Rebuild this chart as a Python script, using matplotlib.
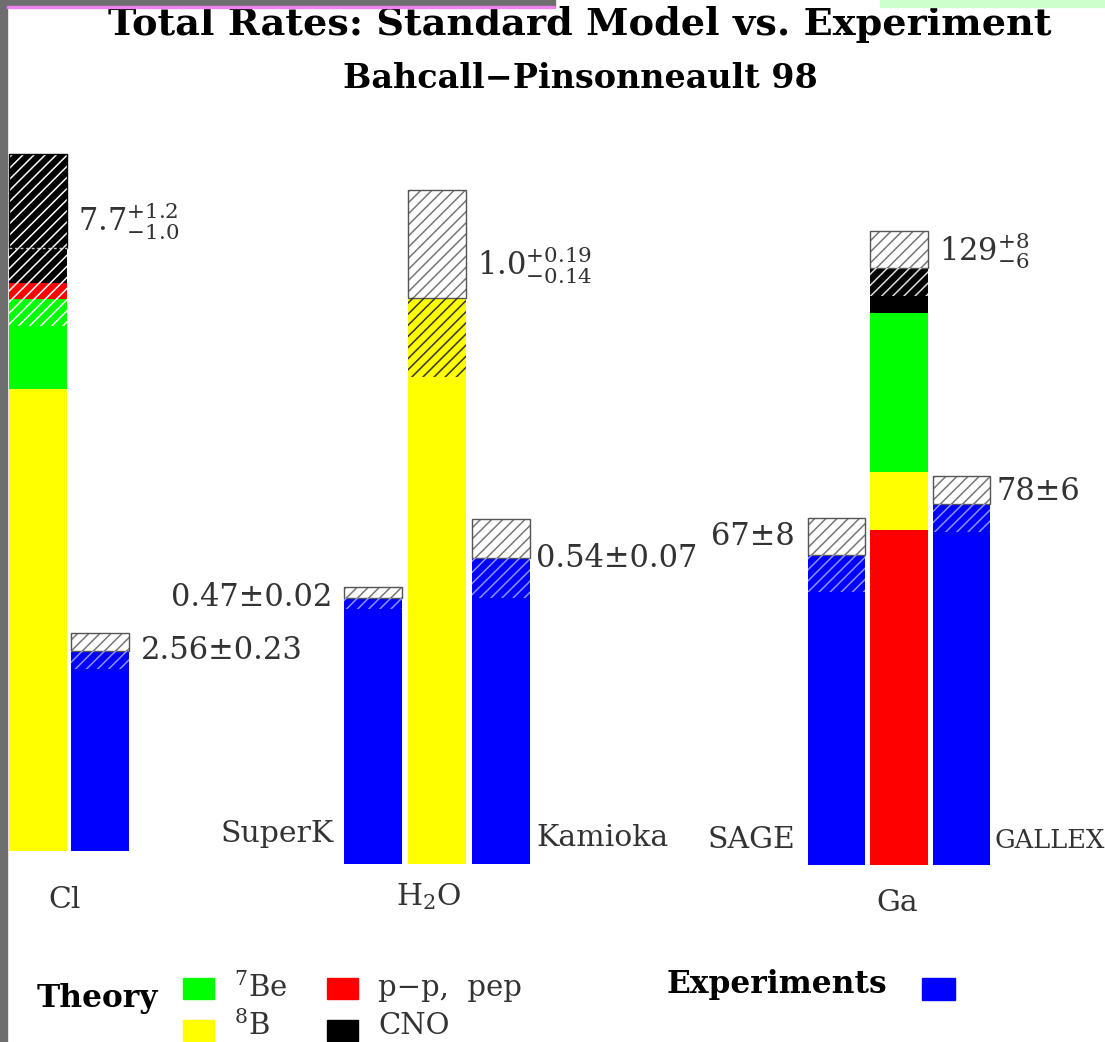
import matplotlib
matplotlib.use('Agg')
from matplotlib import pyplot as plt
from matplotlib.patches import Rectangle

W, H = 1105, 1042

SOURCE_COLORS = {
    'pp': '#ff0000',
    'pep': '#ff0000',
    '7Be': '#00ff00',
    '8B': '#ffff00',
    'CNO': '#000000',
}
EXP_COLOR = '#0000ff'

# Chlorine, SNU
CL_SOURCES = ['8B', '7Be', 'pep', 'CNO']
CL_FLUX = [5.9, 1.15, 0.2, 0.45]
CL_SSM = [7.7, 1.2, 1.0]          # value, +err, -err
CL_EXP = [2.56, 0.23]

# Water Cherenkov, ratio to BP98
H2O_SOURCES = ['8B']
H2O_FLUX = [1.0]
H2O_SSM = [1.0, 0.19, 0.14]
SUPERK = [0.47, 0.02]
KAMIOKA = [0.54, 0.07]

# Gallium, SNU
GA_SOURCES = ['pp', '8B', '7Be', 'CNO']
GA_FLUX = [72.4, 12.4, 34.4, 9.8]
GA_SSM = [129, 8, 6]
SAGE = [67, 8]
GALLEX = [78, 6]

TITLE = 'Total Rates: Standard Model vs. Experiment'
SUBTITLE = 'Bahcall\u2212Pinsonneault 98'
GROUP_NAMES = ['Cl', 'H$_2$O', 'Ga']
LEGEND_LABELS = {'7Be': '$^7$Be', '8B': '$^8$B', 'pp': 'p\u2212p,  pep', 'CNO': 'CNO'}

BAR_W = 0.92
HATCH = '///'
SERIF = 'DejaVu Serif'
INK = '#333333'
VALUE_SIZE = 22
NAME_SIZE = 21.5

plt.rcParams['mathtext.fontset'] = 'dejavuserif'
plt.rcParams['hatch.linewidth'] = 1.1


def fx(px):
    return px / W


def fy(py):
    return 1 - py / H


def group_axes(fig, center, pitch, base, scale, top=100):
    # three bar slots per group, y scaled so that `scale` pixels = 1 unit
    ax = fig.add_axes([(center - 1.5 * pitch) / W, 1 - base / H,
                       3 * pitch / W, (base - top) / H])
    ax.set_xlim(-0.5, 2.5)
    ax.set_ylim(0, (base - top) / scale)
    ax.axis('off')
    return ax


def fmt(v):
    return str(v)


def side_label(ax, text, x, y, side, dx=8, dy=0, size=VALUE_SIZE):
    edge = x + BAR_W / 2 if side == 'right' else x - BAR_W / 2
    sign = 1 if side == 'right' else -1
    ax.annotate(text, xy=(edge, y), xytext=(sign * dx * 0.72, dy * 0.72),
                textcoords='offset points', ha='left' if side == 'right' else 'right',
                va='center', fontsize=size, family=SERIF, color=INK,
                annotation_clip=False)


def draw_theory(ax, x, sources, flux, ssm, top_face='white', top_hatch='#777777',
                top_edge='#555555', low_hatch='white', mid_line=False, label_frac=0.3):
    bottom = 0
    for src, val in zip(sources, flux):
        ax.bar(x, val, BAR_W, bottom=bottom, color=SOURCE_COLORS[src], linewidth=0)
        bottom += val
    value, plus, minus = ssm
    ax.bar(x, plus, BAR_W, bottom=value, facecolor=top_face, edgecolor=top_hatch,
           hatch=HATCH, linewidth=0)
    ax.bar(x, plus, BAR_W, bottom=value, fill=False, edgecolor=top_edge, linewidth=1)
    ax.bar(x, minus, BAR_W, bottom=value - minus, fill=False, edgecolor=low_hatch,
           hatch=HATCH, linewidth=0)
    if mid_line:
        ax.hlines(value, x - BAR_W / 2, x + BAR_W / 2, colors='#cccccc',
                  linestyles=(0, (2, 2)), linewidth=1)
    text = f'${fmt(value)}^{{+{fmt(plus)}}}_{{-{fmt(minus)}}}$'
    side_label(ax, text, x, value + label_frac * plus, 'right', dx=11)


def draw_experiment(ax, x, meas, side, label_frac=0.0, dx=8):
    value, err = meas
    ax.bar(x, value, BAR_W, color=EXP_COLOR, linewidth=0)
    ax.bar(x, err, BAR_W, bottom=value, facecolor='white', edgecolor='#777777',
           hatch=HATCH, linewidth=0)
    ax.bar(x, err, BAR_W, bottom=value, fill=False, edgecolor='#555555', linewidth=1)
    ax.bar(x, err, BAR_W, bottom=value - err, fill=False, edgecolor='#9090ff',
           hatch=HATCH, linewidth=0)
    side_label(ax, f'{fmt(value)}\u00b1{fmt(err)}', x, value + label_frac * err, side, dx=dx)


fig = plt.figure(figsize=(W / 100, H / 100), dpi=100)

# Chlorine
ax_cl = group_axes(fig, center=38, pitch=62, base=851, scale=78.3)
draw_theory(ax_cl, 1, CL_SOURCES, CL_FLUX, CL_SSM, top_face='black', top_hatch='white',
            top_edge='black', low_hatch='white', mid_line=True, label_frac=0.28)
draw_experiment(ax_cl, 2, CL_EXP, 'right', dx=12)

# Water
ax_h2o = group_axes(fig, center=437, pitch=64, base=864, scale=566)
draw_experiment(ax_h2o, 0, SUPERK, 'left', dx=11)
draw_theory(ax_h2o, 1, H2O_SOURCES, H2O_FLUX, H2O_SSM, low_hatch='#333333', label_frac=0.3)
draw_experiment(ax_h2o, 2, KAMIOKA, 'right', dx=6)
side_label(ax_h2o, 'SuperK', 0, 0, 'left', dx=10, dy=30, size=NAME_SIZE)
side_label(ax_h2o, 'Kamioka', 2, 0, 'right', dx=6, dy=26, size=NAME_SIZE)

# Gallium
ax_ga = group_axes(fig, center=899, pitch=62.5, base=865, scale=4.63)
draw_experiment(ax_ga, 0, SAGE, 'left', label_frac=0.5, dx=13)
draw_theory(ax_ga, 1, GA_SOURCES, GA_FLUX, GA_SSM, low_hatch='#dddddd', label_frac=0.45)
draw_experiment(ax_ga, 2, GALLEX, 'right', label_frac=0.45, dx=6)
side_label(ax_ga, 'SAGE', 0, 0, 'left', dx=13, dy=25, size=NAME_SIZE)
side_label(ax_ga, 'GALLEX', 2, 0, 'right', dx=4, dy=25, size=18.5)

# detector names under each group
for name, x, y in zip(GROUP_NAMES, [65, 429, 897], [900, 897, 903]):
    fig.text(fx(x), fy(y), name, ha='center', va='center', fontsize=NAME_SIZE,
             family=SERIF, color=INK)

fig.text(fx(580), fy(35), TITLE, ha='center', va='baseline', fontsize=27.5,
         fontweight='bold', family=SERIF)
fig.text(fx(580), fy(88), SUBTITLE, ha='center', va='baseline', fontsize=24,
         fontweight='bold', family=SERIF)

# legend
fig.text(fx(37), fy(998), 'Theory', ha='left', va='center', fontsize=22.5,
         fontweight='bold', family=SERIF)
for src, x, y in [('7Be', 183, 978), ('pp', 327, 978), ('8B', 183, 1020), ('CNO', 327, 1020)]:
    fig.patches.append(Rectangle((fx(x), fy(y + 21)), 31 / W, 21 / H,
                                 transform=fig.transFigure, color=SOURCE_COLORS[src]))
    fig.text(fx(x + 51), fy(min(y + 10, 1026)), LEGEND_LABELS[src], ha='left', va='center',
             fontsize=21, family=SERIF, color=INK)
fig.text(fx(667), fy(984), 'Experiments', ha='left', va='center', fontsize=22.5,
         fontweight='bold', family=SERIF)
fig.patches.append(Rectangle((fx(922), fy(1000)), 33 / W, 22 / H,
                             transform=fig.transFigure, color=EXP_COLOR))

# slide frame around the plot
fig.patches.append(Rectangle((0, 0), fx(7), 1, transform=fig.transFigure,
                             color='#6e6e6e', zorder=5))
fig.patches.append(Rectangle((0, fy(6)), fx(555), 6 / H, transform=fig.transFigure,
                             color='#6e6e6e', zorder=5))
fig.patches.append(Rectangle((fx(7), fy(8)), fx(548), 2 / H, transform=fig.transFigure,
                             color='#ee82ee', zorder=5))
fig.patches.append(Rectangle((fx(880), fy(7)), fx(225), 7 / H, transform=fig.transFigure,
                             color='#ccffcc', zorder=5))

fig.savefig('out.png', dpi=100)
